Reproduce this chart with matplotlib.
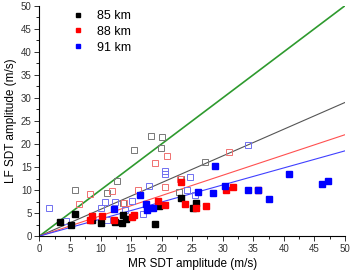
import numpy as np
import matplotlib.pyplot as plt
from matplotlib.ticker import MultipleLocator

plt.rcParams['font.family'] = ['Liberation Sans', 'DejaVu Sans']

# filled squares
x85 = [3.3, 5.2, 5.9, 8.6, 10.1, 12.4, 13.5, 13.7, 14.1, 18.9, 19.5, 23.1, 25.2, 25.6]
y85 = [3.1, 2.4, 4.9, 3.5, 2.8, 3.1, 2.9, 4.6, 3.8, 2.6, 6.5, 8.3, 6.1, 7.2]
x88 = [8.2, 8.6, 10.3, 12.2, 15.2, 15.4, 19.4, 20.6, 23.2, 23.9, 25.6, 27.3, 30.6, 31.6, 35.8]
y88 = [3.5, 4.3, 4.3, 3.5, 4.1, 4.6, 7.7, 6.7, 11.7, 7.0, 6.2, 6.6, 9.9, 10.6, 9.9]
x91 = [12.2, 16.4, 17.5, 17.6, 18.6, 26.0, 28.4, 28.8, 30.4, 34.1, 35.8, 37.6, 40.8, 46.3, 47.3]
y91 = [5.8, 8.9, 7.0, 5.7, 6.2, 9.6, 9.3, 15.2, 10.9, 10.1, 10.0, 8.0, 13.5, 11.3, 12.0]

# open squares
xo85 = [5.8, 11.1, 12.7, 15.4, 18.2, 20.0, 19.9, 13.7, 22.8, 23.1, 27.1]
yo85 = [9.9, 9.4, 12.0, 18.7, 21.8, 21.6, 19.1, 7.1, 9.6, 12.3, 16.0]
xo88 = [6.4, 8.2, 11.9, 13.9, 16.1, 18.9, 20.8, 20.5, 23.0, 31.1]
yo88 = [7.0, 9.1, 9.8, 7.1, 10.0, 15.9, 17.4, 10.6, 12.3, 18.2]
xo91 = [1.6, 4.4, 10.0, 10.8, 11.1, 12.4, 15.2, 16.9, 18.0, 20.5, 20.5, 14.0, 24.7, 24.2, 25.4, 34.2]
yo91 = [6.2, 3.3, 6.0, 7.5, 3.6, 7.5, 7.7, 4.9, 10.9, 14.2, 13.4, 5.7, 12.8, 10.1, 8.9, 19.8]

# slopes of the reference lines
slope_names = ['1:1', '85 km', '88 km', '91 km']
slopes = [1.0, 0.58, 0.44, 0.37]
line_colors = ['#2e9a2e', '#555555', '#ff5050', '#4040ff']
line_widths = [1.2, 0.8, 0.8, 0.8]

fig = plt.figure(figsize=(3.52, 2.72), dpi=100)
ax = fig.add_axes([0.112, 0.132, 0.868, 0.847])

xl = np.array([0, 50])
for s, c, lw in zip(slopes, line_colors, line_widths):
    ax.plot(xl, s * xl, color=c, lw=lw, zorder=2)

ms = 4.0
ax.plot(xo85, yo85, 's', ms=ms, mfc='none', mec='#777777', mew=0.7, zorder=3)
ax.plot(xo88, yo88, 's', ms=ms, mfc='none', mec='#f07070', mew=0.7, zorder=3)
ax.plot(xo91, yo91, 's', ms=ms, mfc='none', mec='#7070f0', mew=0.7, zorder=3)

ax.plot(x85, y85, 's', ms=3.8, color='black', mec='black', label='85 km', zorder=4)
ax.plot(x88, y88, 's', ms=3.8, color='#ff0000', mec='#ff0000', label='88 km', zorder=4)
ax.plot(x91, y91, 's', ms=3.8, color='#0000ff', mec='#0000ff', label='91 km', zorder=4)

ax.set_xlim(0, 50)
ax.set_ylim(0, 50)
ax.xaxis.set_major_locator(MultipleLocator(5))
ax.yaxis.set_major_locator(MultipleLocator(5))
ax.xaxis.set_minor_locator(MultipleLocator(2.5))
ax.yaxis.set_minor_locator(MultipleLocator(2.5))
ax.tick_params(which='major', direction='out', length=3.5, width=0.7, labelsize=7, pad=2, colors='#333333')
ax.tick_params(which='minor', direction='out', length=2, width=0.6)
ax.spines['top'].set_visible(False)
ax.spines['right'].set_visible(False)
for sp in ['left', 'bottom']:
    ax.spines[sp].set_linewidth(0.8)

ax.set_xlabel('MR SDT amplitude (m/s)', fontsize=8.5, labelpad=3)
ax.set_ylabel('LF SDT amplitude (m/s)', fontsize=8.5, labelpad=3)

ax.legend(loc='upper left', bbox_to_anchor=(0.07, 1.03), frameon=False, fontsize=9,
          handlelength=1.0, handletextpad=1.0, labelspacing=0.3, markerscale=0.9)

fig.savefig('out.png', dpi=100)
